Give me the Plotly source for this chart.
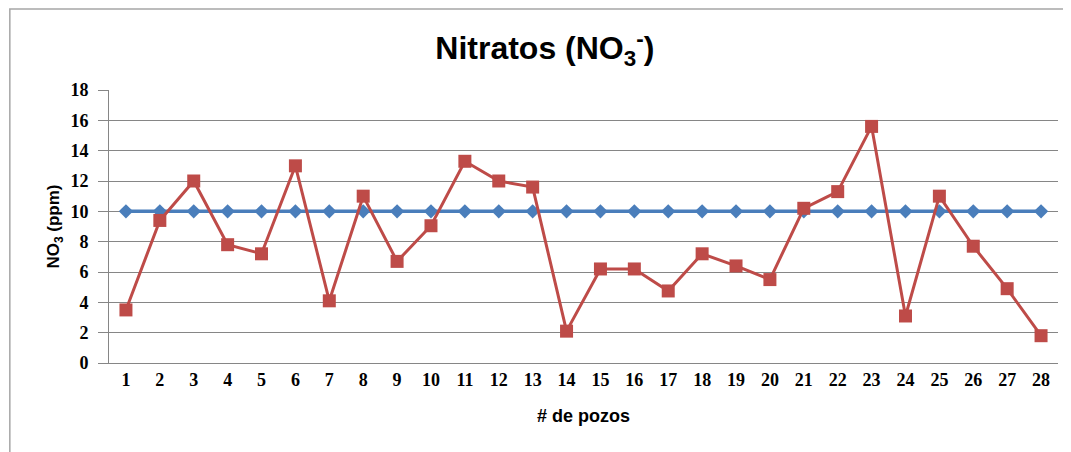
import plotly.graph_objects as go

pozos = list(range(1, 29))
limite = [10] * 28
nitratos = [3.5, 9.4, 12.0, 7.8, 7.2, 13.0, 4.1, 11.0, 6.7, 9.05,
            13.3, 12.0, 11.6, 2.1, 6.2, 6.2, 4.75, 7.2, 6.4, 5.5,
            10.2, 11.3, 15.6, 3.1, 11.0, 7.7, 4.9, 1.8]
yticks = list(range(0, 19, 2))

SANS = "Liberation Sans, Arial, sans-serif"
SERIF = "Liberation Serif, serif"

fig = go.Figure()
fig.add_trace(go.Scatter(
    x=pozos, y=limite, mode="lines+markers",
    line=dict(color="#4A7EBB", width=3.5),
    marker=dict(symbol="diamond", size=11, color="#4A7EBB"),
    showlegend=False))
fig.add_trace(go.Scatter(
    x=pozos, y=nitratos, mode="lines+markers",
    line=dict(color="#BE4B48", width=3),
    marker=dict(symbol="square", size=13, color="#BE4B48"),
    showlegend=False))

fig.update_layout(
    width=1063, height=444,
    margin=dict(l=101, r=13, t=82, b=89),
    paper_bgcolor="white", plot_bgcolor="white",
    title=dict(text="<b>Nitratos (NO<sub>3</sub><sup>-</sup>)</b>",
               x=0.505, xanchor="center", y=0.91, yanchor="middle",
               font=dict(family=SANS, size=32, color="black")),
    xaxis=dict(range=[0.5, 28.5], tickmode="array", tickvals=pozos,
               ticktext=["<b>%d</b>" % p for p in pozos], showgrid=False,
               zeroline=False, showline=True, linecolor="#868686",
               ticks="", tickfont=dict(family=SERIF, size=18, color="black"),
               title=dict(text="<b># de pozos</b>", standoff=20,
                          font=dict(family=SANS, size=18, color="black"))),
    yaxis=dict(range=[0, 18], tickmode="array", tickvals=yticks,
               ticktext=["<b>%d</b>" % v for v in yticks],
               showgrid=True, gridcolor="#868686", gridwidth=1,
               zeroline=False, showline=True, linecolor="#868686",
               ticks="outside", ticklen=10, tickcolor="#868686",
               ticklabelstandoff=6,
               tickfont=dict(family=SERIF, size=18, color="black"),
               title=dict(text="<b>NO<sub>3</sub> (ppm)</b>", standoff=6,
                          font=dict(family=SANS, size=17, color="black"))),
    shapes=[dict(type="rect", xref="paper", yref="paper",
                 x0=-0.1045, x1=1.03, y0=-0.45, y1=1.297,
                 line=dict(color="#A6A6A6", width=1.5), fillcolor="rgba(0,0,0,0)")]
)

fig.write_html("out.html")
